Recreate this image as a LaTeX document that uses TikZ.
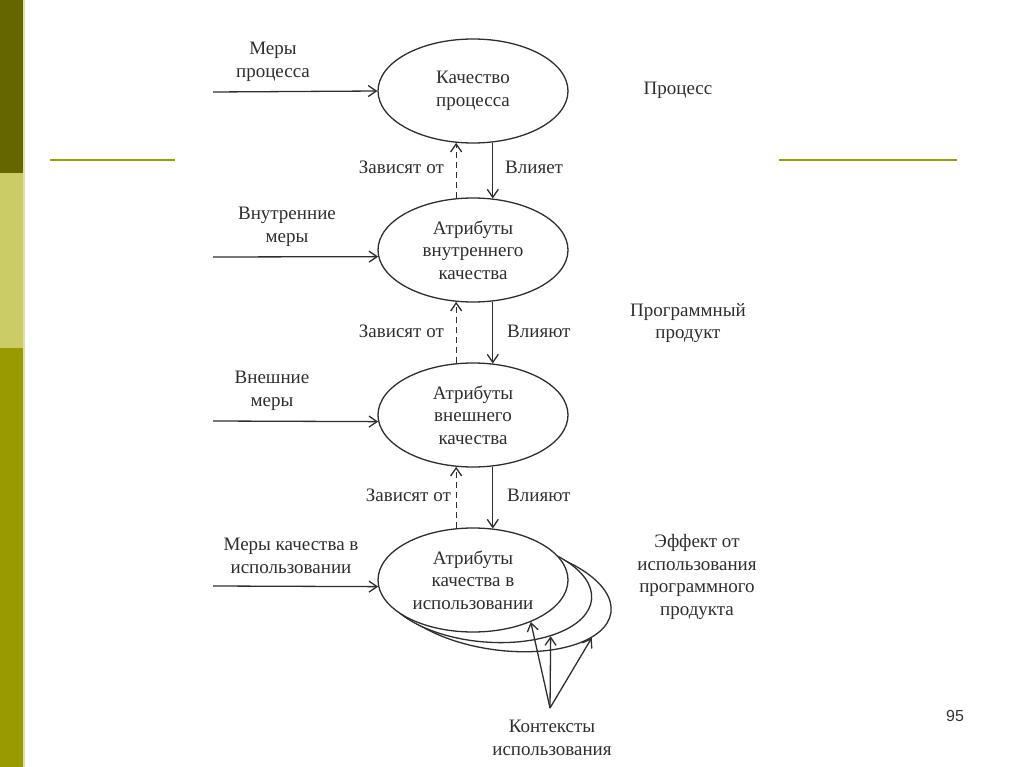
\documentclass[tikz,border=0pt]{standalone}
\usepackage{fontspec}
\setmainfont{Liberation Serif}
\newfontfamily\numfont{Liberation Sans}
\usetikzlibrary{shapes.geometric,arrows.meta}
\definecolor{barA}{HTML}{666600}
\definecolor{barB}{HTML}{CCCC66}
\definecolor{barC}{HTML}{999900}
\definecolor{rulec}{HTML}{999F0A}
\definecolor{ink}{HTML}{2E2E2E}
\begin{document}
\begin{tikzpicture}[x=1pt,y=-1pt,
 ell/.style={ellipse,draw=ink,line width=1.3pt,fill=white,minimum width=190,minimum height=104,inner sep=0pt,align=center,text=ink,font=\fontsize{19}{22.5}\selectfont},
 txt/.style={align=center,text=ink,font=\fontsize{19}{22.5}\selectfont,inner sep=0pt},
 arr/.style={draw=ink,line width=1.3pt,-{Straight Barb[length=8pt,width=11pt]}},
 dep/.style={arr,dash pattern=on 6pt off 4pt}]
\useasboundingbox (0,0) rectangle (1024,767);
% side bar
\fill[barA] (0,0) rectangle (23,173);
\fill[barB] (0,173) rectangle (23,348);
\fill[barC] (0,348) rectangle (23,767);
\fill[barB!60] (23,0) rectangle (24.5,767);
% rules
\draw[rulec,line width=2.2pt] (50,160) -- (175,160);
\draw[rulec,line width=2.2pt] (779,160) -- (957,160);
% ellipses
\node[ell] (e1) at (473,91) {Качество\\процесса};
\node[ell] (e2) at (473,250) {Атрибуты\\внутреннего\\качества};
\node[ell] (e3) at (473,415) {Атрибуты\\внешнего\\качества};
\node[ell,minimum width=224,minimum height=106,rotate=-8] (e4c) at (500,597) {};
\node[ell,minimum width=210,rotate=-5] (e4b) at (487,590) {};
\node[ell] (e4) at (473,580) {Атрибуты\\качества в\\использовании};
% left labels and arrows
\node[txt] (m1) at (273,62) {Меры\\процесса};
\node[txt] (m2) at (287,227) {Внутренние\\меры};
\node[txt] (m3) at (272,391) {Внешние\\меры};
\node[txt] (m4) at (291,556) {Меры качества в\\использовании};
\coordinate (s1) at (213,92);
\coordinate (s2) at (213,257);
\coordinate (s3) at (213,421);
\coordinate (s4) at (213,586);
\draw[arr] (s1) -- (e1.west);
\draw[arr] (s2) -- (e2.184);
\draw[arr] (s3) -- (e3.184);
\draw[arr] (s4) -- (e4.184);
% vertical arrows
\draw[dep] (e2.108) -- (e1.252);
\draw[arr] (e1.291) -- (e2.69);
\draw[dep] (e3.108) -- (e2.252);
\draw[arr] (e2.291) -- (e3.69);
\draw[dep] (e4.108) -- (e3.252);
\draw[arr] (e3.291) -- (e4.69);
\node[txt,anchor=east] (z1) at (444,167) {Зависят от};
\node[txt,anchor=west] (v1) at (505,167) {Влияет};
\node[txt,anchor=east] (z2) at (444,331) {Зависят от};
\node[txt,anchor=west] (v2) at (507,331) {Влияют};
\node[txt,anchor=east] (z3) at (451,495) {Зависят от};
\node[txt,anchor=west] (v3) at (507,495) {Влияют};
% right labels
\node[txt] (r1) at (678,90) {Процесс};
\node[txt] (r2) at (688,323) {Программный\\продукт};
\node[txt] (r3) at (697,577) {Эффект от\\использования\\программного\\продукта};
% contexts
\coordinate (ctx) at (550,708);
\draw[arr] (ctx) -- (e4.-36);
\draw[arr] (ctx) -- (e4b.-31);
\draw[arr] (ctx) -- (e4c.-16);
\node[txt] (ctxt) at (552,738) {Контексты\\использования};
% page number
\node[font=\numfont\fontsize{16}{19}\selectfont,text=black!80] (pg) at (955,716) {95};
\end{tikzpicture}
\end{document}
